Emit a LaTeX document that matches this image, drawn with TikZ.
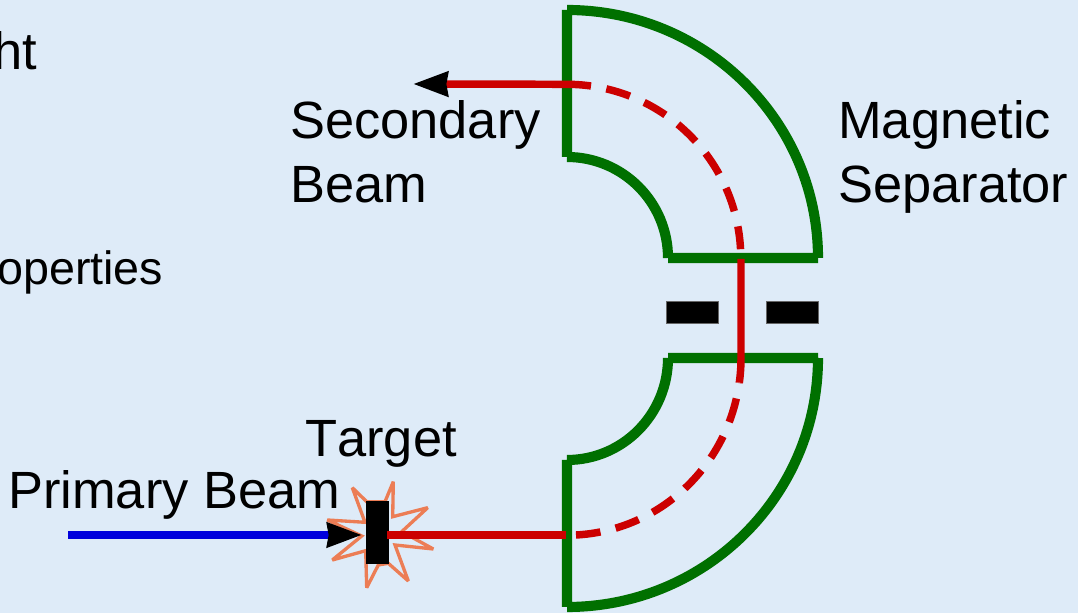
\documentclass[tikz,border=0pt]{standalone}
\usepackage{fontspec}
\usepackage{xcolor}
\usepackage{tikz}
\setmainfont[Kerning=Off]{Liberation Sans}
\usetikzlibrary{arrows.meta, positioning}
\definecolor{pagebg}{RGB}{222,235,248}
\definecolor{magnetgreen}{RGB}{0,112,0}
\definecolor{beamred}{RGB}{204,0,0}
\definecolor{beamblue}{RGB}{0,0,220}
\definecolor{burstorange}{RGB}{236,125,85}
\tikzset{
    biglabel/.style={font=\fontsize{39.3}{48}\selectfont, anchor=base west, inner sep=0pt, align=left},
    cutlabel/.style={font=\fontsize{35}{40}\selectfont, anchor=base west, inner sep=0pt},
    magnet/.style={draw=magnetgreen, line width=7.6pt, line cap=butt},
    redbeam/.style={draw=beamred, line width=5.6pt},
    reddash/.style={redbeam, dash pattern=on 18.5pt off 11.7pt},
    bluebeam/.style={draw=beamblue, line width=5.4pt},
    beamtip/.style={-{Stealth[length=26pt, width=18pt, inset=1pt, black]}},
    slit/.style={rectangle, fill=black, draw=black!60, line width=0.3pt, minimum width=39pt, minimum height=16.5pt, inner sep=0pt},
    targetbar/.style={rectangle, fill=black, minimum width=17pt, minimum height=47pt, inner sep=0pt},
    burst/.style={draw=burstorange, line width=2.5pt, miter limit=4}
}

\begin{document}
\begin{tikzpicture}[x=0.75pt, y=0.75pt]

\fill[pagebg] (0,0) rectangle (1078,613);
\useasboundingbox (0,0) rectangle (1078,613);

% text cut off by the page edge
\node[biglabel] (lightlabel) at (-7,543) {ht};
\node[cutlabel] (propertieslabel) at (-3,328) {operties};

\node[biglabel] (secondarylabel) at (290,410) {Secondary\\Beam};
\node[biglabel] (separatorlabel) at (838,410) {Magnetic\\Separator};
\node[biglabel] (targetlabel) at (305,156) {Target};
\node[biglabel] (primarylabel) at (8,104) {Primary Beam};

% upper magnet
\draw[magnet] (567,603) -- (567,456)
    (567,456) arc[start angle=90, end angle=0, x radius=101, y radius=101]
    (668,355) -- (818,355)
    (818,355) arc[start angle=0, end angle=90, x radius=251, y radius=248];

% lower magnet
\draw[magnet] (567,6) -- (567,153)
    (567,153) arc[start angle=-90, end angle=0, x radius=101, y radius=102]
    (668,255) -- (818,255)
    (818,255) arc[start angle=0, end angle=-90, x radius=251, y radius=249];

\node[slit] (slitleft) at (692,301) {};
\node[slit] (slitright) at (792,301) {};

% target
\draw[burst] (393.3,131.3) -- (392.7,96.3) -- (427.7,105.3) -- (401.7,81.3) -- (433.3,64)
    -- (395,68) -- (408.3,32) -- (388.3,49.7) -- (378.3,48) -- (366.7,25.3) -- (365.7,62.3)
    -- (332.3,53) -- (361.7,77) -- (327.3,93) -- (365,90.7) -- (352.3,125.3) -- (366.7,111.3)
    -- (385,111.3) -- cycle;
\node[targetbar] (target) at (377.5,80.5) {};

\coordinate (beamstart) at (68,78);
\coordinate (beamhit) at (362,78);
\coordinate (beamout) at (387,78);
\coordinate (lowerin) at (566,78);
\coordinate (lowerdash) at (576,78);
\coordinate (driftend) at (741,354);
\coordinate (driftbend) at (741,255);
\coordinate (uppersolid) at (591,527);

\draw[bluebeam, beamtip] (beamstart) -- (beamhit);
\draw[redbeam] (beamout) -- (lowerin);
\draw[reddash] (lowerdash) arc[start angle=-87, end angle=-8, x radius=174, y radius=177];
\draw[redbeam] (driftend) -- (driftbend) arc[start angle=0, end angle=-8, x radius=174, y radius=177];
\draw[reddash, dash phase=18.5pt] (uppersolid) arc[start angle=82, end angle=3, x radius=174, y radius=174];
\draw[redbeam, beamtip] (uppersolid) arc[start angle=82, end angle=90, x radius=174, y radius=174] -- (413,529);

\end{tikzpicture}
\end{document}
